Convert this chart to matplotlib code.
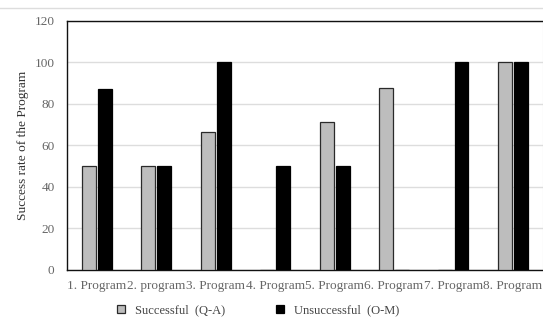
import matplotlib
matplotlib.use("Agg")
import matplotlib.pyplot as plt
import numpy as np
from matplotlib.lines import Line2D

categories = ["1. Program", "2. program", "3. Program", "4. Program",
              "5. Program", "6. Program", "7. Program", "8. Program"]
successful = [50, 50, 66.7, 0, 71.4, 87.5, 0, 100]
unsuccessful = [87, 50, 100, 50, 50, 0, 100, 100]
yticks = [0, 20, 40, 60, 80, 100, 120]

plt.rcParams['font.family'] = ['Liberation Serif', 'DejaVu Serif']

fig = plt.figure(figsize=(5.43, 3.22), dpi=100)
ax = fig.add_axes([0.1234, 0.1615, 0.876, 0.7733])

x = np.arange(len(categories))
w = 0.235
ax.bar(x - 0.135, successful, w, color="#bdbdbd", edgecolor="#2a2a2a", linewidth=0.9, zorder=3,
       label="Successful  (Q-A)")
ax.bar(x + 0.135, unsuccessful, w, color="#000000", edgecolor="#000000", linewidth=0.9, zorder=3,
       label="Unsuccessful  (O-M)")

ax.set_xlim(-0.5, len(categories) - 0.5)
ax.set_ylim(0, 120)
ax.set_yticks(yticks)
ax.set_xticks(x)
ax.set_xticklabels(categories)
ax.tick_params(axis='both', length=0, labelsize=9.5, labelcolor="#666666")
ax.tick_params(axis='x', pad=7)
ax.tick_params(axis='y', pad=9)
ax.yaxis.grid(True, color="#dddddd", linewidth=1, zorder=0)
for s in ['left', 'bottom', 'top']:
    ax.spines[s].set_color("#111111")
    ax.spines[s].set_linewidth(1.0)
ax.spines['right'].set_color("#cccccc")
ax.set_ylabel("Success rate of the Program", fontsize=9.6, color="#333333")
ax.yaxis.set_label_coords(-0.08, 0.5)

fig.add_artist(Line2D([0, 1], [0.975, 0.975], color="#dddddd", linewidth=1, transform=fig.transFigure))

fig.legend(loc="lower left", bbox_to_anchor=(0.195, -0.017), ncol=2, frameon=False,
           fontsize=9, handlelength=0.65, handleheight=0.65, columnspacing=4.1,
           handletextpad=0.75, labelcolor="#444444")

fig.savefig("out.png", dpi=100)
